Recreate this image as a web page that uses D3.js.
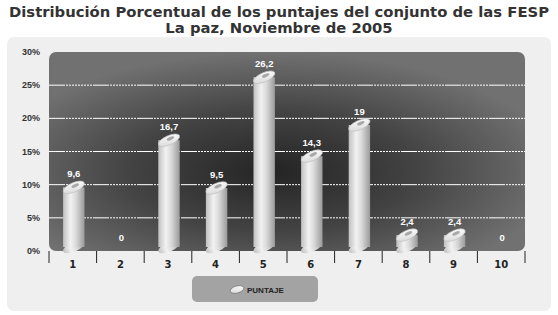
<!DOCTYPE html>
<html>
<head>
<meta charset="utf-8">
<script src="https://cdnjs.cloudflare.com/ajax/libs/d3/7.8.5/d3.min.js"></script>
<style>
  body { margin: 0; background: #fff; }
  svg text { font-family: "Liberation Sans", Arial, sans-serif; }
</style>
</head>
<body>
<div id="chart"></div>
<script>
const categories = ["1", "2", "3", "4", "5", "6", "7", "8", "9", "10"];
const values = [9.6, 0, 16.7, 9.5, 26.2, 14.3, 19, 2.4, 2.4, 0];
const yTicks = [0, 5, 10, 15, 20, 25, 30];
const titleLines = ["Distribución Porcentual de los puntajes del conjunto de las FESP", "La paz, Noviembre de 2005"];
const legendLabel = "PUNTAJE";

const W = 558, H = 315;
const margin = { top: 52, right: 33, bottom: 64, left: 49 };
const plotW = W - margin.left - margin.right,
    plotH = H - margin.top - margin.bottom;

const svg = d3.select("#chart").append("svg")
    .attr("width", W)
    .attr("height", H);

const defs = svg.append("defs");

const bg = defs.append("radialGradient").attr("id", "plotBg")
    .attr("cx", "0.47").attr("cy", "0.6").attr("r", "0.6");
bg.append("stop").attr("offset", "0%").attr("stop-color", "#242424");
bg.append("stop").attr("offset", "50%").attr("stop-color", "#434343");
bg.append("stop").attr("offset", "100%").attr("stop-color", "#717171");

const body = defs.append("linearGradient").attr("id", "cylBody")
    .attr("x1", "0").attr("x2", "1").attr("y1", "0").attr("y2", "0");
body.append("stop").attr("offset", "0%").attr("stop-color", "#c0c0c0");
body.append("stop").attr("offset", "35%").attr("stop-color", "#f2f2f2");
body.append("stop").attr("offset", "60%").attr("stop-color", "#dadada");
body.append("stop").attr("offset", "100%").attr("stop-color", "#9a9a9a");

const topGrad = defs.append("linearGradient").attr("id", "cylTop")
    .attr("x1", "0").attr("x2", "1").attr("y1", "1").attr("y2", "0");
topGrad.append("stop").attr("offset", "0%").attr("stop-color", "#d6d6d6");
topGrad.append("stop").attr("offset", "100%").attr("stop-color", "#ffffff");

// outer panel
svg.append("rect")
    .attr("x", 7).attr("y", 37)
    .attr("width", 544).attr("height", 274)
    .attr("rx", 7)
    .attr("fill", "#efefef");

// title
svg.append("g").selectAll("text")
    .data(titleLines)
    .enter().append("text")
    .attr("x", 279)
    .attr("y", (d, i) => 17 + i * 16)
    .attr("text-anchor", "middle")
    .style("font-family", "'DejaVu Sans', Verdana, sans-serif")
    .style("font-weight", "bold")
    .style("font-size", "14.8px")
    .attr("fill", "#333")
    .text(d => d);

const x = d3.scaleBand()
    .domain(categories)
    .range([0, plotW]);

const y = d3.scaleLinear()
    .domain([0, 30])
    .range([plotH, 0]);

const g = svg.append("g")
    .attr("transform", "translate(" + margin.left + "," + margin.top + ")");

// plot background
g.append("rect")
    .attr("x", 0).attr("y", 0)
    .attr("width", plotW).attr("height", plotH)
    .attr("rx", 7)
    .attr("fill", "url(#plotBg)");

// gridlines
g.append("g").selectAll("line")
    .data(yTicks.filter(t => t > 0 && t < 30))
    .enter().append("line")
    .attr("x1", 0).attr("x2", plotW)
    .attr("y1", d => y(d)).attr("y2", d => y(d))
    .attr("stroke", "#fff")
    .attr("stroke-width", 1)
    .attr("stroke-dasharray", "16 1 2 1 2 1 2 1 2 1 2 1 2 1 2 1 2 1 2 1");

// y axis labels
g.append("g").selectAll("text")
    .data(yTicks)
    .enter().append("text")
    .attr("x", -9)
    .attr("y", d => y(d) + 3)
    .attr("text-anchor", "end")
    .style("font-size", "9px")
    .style("font-weight", "bold")
    .attr("fill", "#333")
    .text(d => d + "%");

// x axis
const xAxis = g.append("g")
    .attr("transform", "translate(0," + plotH + ")")
    .call(d3.axisBottom(x).tickSize(0).tickPadding(10));
xAxis.select(".domain").remove();
xAxis.selectAll("text")
    .style("font-family", "'DejaVu Sans', Verdana, sans-serif")
    .style("font-size", "10px")
    .style("font-weight", "bold")
    .attr("fill", "#222");
xAxis.selectAll(".sep")
    .data(categories.concat(["end"]))
    .enter().append("line")
    .attr("class", "sep")
    .attr("x1", (d, i) => i * x.bandwidth())
    .attr("x2", (d, i) => i * x.bandwidth())
    .attr("y1", 0).attr("y2", 12)
    .attr("stroke", "#222");

// cylinders
const bw = 23, ry = 4.6, tilt = -24;
const bars = g.append("g").selectAll("g")
    .data(categories.map((c, i) => ({ c: c, v: values[i] })).filter(d => d.v > 0))
    .enter().append("g")
    .attr("transform", d => "translate(" + (x(d.c) + x.bandwidth() / 2 + 1) + ",0)");

bars.append("ellipse")
    .attr("cx", 0).attr("cy", plotH - 4)
    .attr("rx", bw / 2).attr("ry", ry)
    .attr("transform", "rotate(" + tilt + ",0," + (plotH - 4) + ")")
    .attr("fill", "url(#cylBody)");

bars.append("rect")
    .attr("x", -bw / 2 + 0.8)
    .attr("width", bw - 1.6)
    .attr("y", d => y(d.v))
    .attr("height", d => plotH - 4 - y(d.v))
    .attr("fill", "url(#cylBody)");

bars.append("ellipse")
    .attr("cx", 0).attr("cy", d => y(d.v))
    .attr("rx", bw / 2).attr("ry", ry)
    .attr("transform", d => "rotate(" + tilt + ",0," + y(d.v) + ")")
    .attr("fill", "url(#cylTop)")
    .attr("stroke", "#bdbdbd")
    .attr("stroke-width", 0.6);

bars.append("ellipse")
    .attr("cx", 2).attr("cy", d => y(d.v) - 1)
    .attr("rx", 4).attr("ry", 1.6)
    .attr("transform", d => "rotate(" + tilt + ",0," + y(d.v) + ")")
    .attr("fill", "#a8a8a8");

// value labels
const fmt = d3.formatLocale({ decimal: ",", thousands: ".", grouping: [3], currency: ["", ""] }).format(".3~g");
g.append("g").selectAll("text")
    .data(categories.map((c, i) => ({ c: c, v: values[i] })))
    .enter().append("text")
    .attr("x", d => x(d.c) + x.bandwidth() / 2 + 1)
    .attr("y", d => y(d.v) - 10)
    .attr("text-anchor", "middle")
    .style("font-size", "9.5px")
    .style("font-weight", "bold")
    .attr("fill", "#fff")
    .text(d => fmt(d.v));

// legend
const legend = svg.append("g").attr("transform", "translate(192,276)");
legend.append("rect")
    .attr("width", 126).attr("height", 26)
    .attr("rx", 5)
    .attr("fill", "#a3a3a3");
legend.append("ellipse")
    .attr("cx", 45).attr("cy", 13.5)
    .attr("rx", 7).attr("ry", 3.5)
    .attr("transform", "rotate(-15,45,13.5)")
    .attr("fill", "url(#cylTop)")
    .attr("stroke", "#666")
    .attr("stroke-width", 0.6);
legend.append("text")
    .attr("x", 55).attr("y", 16.5)
    .style("font-size", "8px")
    .style("font-weight", "bold")
    .attr("fill", "#222")
    .text(legendLabel);
</script>
</body>
</html>
